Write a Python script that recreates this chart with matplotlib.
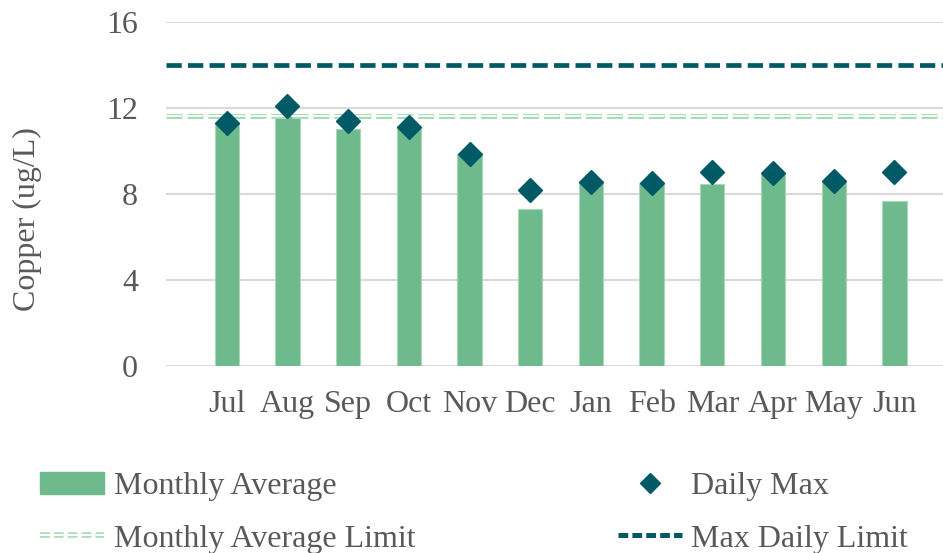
import matplotlib.pyplot as plt
from matplotlib.lines import Line2D
from matplotlib.patches import Patch
from matplotlib.legend_handler import HandlerTuple

plt.rcParams['font.family'] = ['Liberation Serif', 'DejaVu Serif']
plt.rcParams['lines.scale_dashes'] = False

# dados
meses = ["Jul", "Aug", "Sep", "Oct", "Nov", "Dec", "Jan", "Feb", "Mar", "Apr", "May", "Jun"]
media_mensal = [11.3, 11.6, 11.0, 11.1, 9.85, 7.3, 8.55, 8.5, 8.45, 8.95, 8.55, 7.65]
max_diario = [11.3, 12.1, 11.4, 11.1, 9.85, 8.2, 8.55, 8.5, 9.0, 8.95, 8.6, 9.0]
limite_media = 11.6
limite_diario = 14
yticks = [0, 4, 8, 12, 16]

verde = "#6fba8d"
verde_claro = "#a8dbb8"
azul = "#005a66"
cinza = "#595959"
fs = 23

fig = plt.figure(figsize=(9.43, 5.53), dpi=100)
ax = fig.add_axes([166 / 943, 0.338, 1 - 166 / 943, 0.623])

x = list(range(len(meses)))
ax.bar(x, media_mensal, width=0.4, color=verde, edgecolor="#a9d8b9", linewidth=0.8, zorder=2)

# linha dupla do limite mensal
ax.axhline(limite_media, color=verde_claro, lw=3.6, ls=(0, (11.5, 3.6)), zorder=3)
ax.axhline(limite_media, color="white", lw=1.3, ls=(0, (11.5, 3.6)), zorder=3)
ax.axhline(limite_diario, color=azul, lw=3.4, ls=(0, (11, 4.5)), zorder=3)

ax.plot(x, max_diario, "D", color=azul, markersize=12, zorder=4, linestyle="none")

ax.set_xlim(-1.0, 11.8)
ax.set_ylim(0, 16)
ax.set_yticks(yticks)
ax.set_xticks(x)
ax.set_xticklabels(meses)
ax.grid(axis="y", color="#d9d9d9", lw=1.5, zorder=0)
ax.set_axisbelow(True)
for s in ax.spines.values():
    s.set_visible(False)
ax.tick_params(axis="both", length=0, labelsize=fs, labelcolor=cinza)
ax.tick_params(axis="y", pad=20)
ax.tick_params(axis="x", pad=17)

fig.text(27 / 943, 1 - 219 / 553, "Copper (ug/L)", rotation=90, ha="center", va="center",
         fontsize=fs, color=cinza)

# legenda
h_media = Patch(facecolor=verde, edgecolor=verde)
h_lim_media = (Line2D([], [], color=verde_claro, lw=4, ls=(0, (7, 3))),
               Line2D([], [], color="white", lw=1.5, ls=(0, (7, 3))))
h_max = Line2D([], [], marker="D", color=azul, markersize=10, linestyle="none")
h_lim_max = Line2D([], [], color=azul, lw=3.6, ls=(0, (7, 3)))

fig.legend([h_media, h_lim_media, h_max, h_lim_max],
           ["Monthly Average", "Monthly Average Limit", "Daily Max", "Max Daily Limit"],
           handler_map={tuple: HandlerTuple(ndivide=1)},
           ncol=2, loc="lower left", bbox_to_anchor=(0.012, -0.053),
           frameon=False, fontsize=fs, labelcolor=cinza,
           handlelength=2.0, handletextpad=0.3, columnspacing=6.35, labelspacing=0.72)

plt.savefig("out.png", dpi=100)
